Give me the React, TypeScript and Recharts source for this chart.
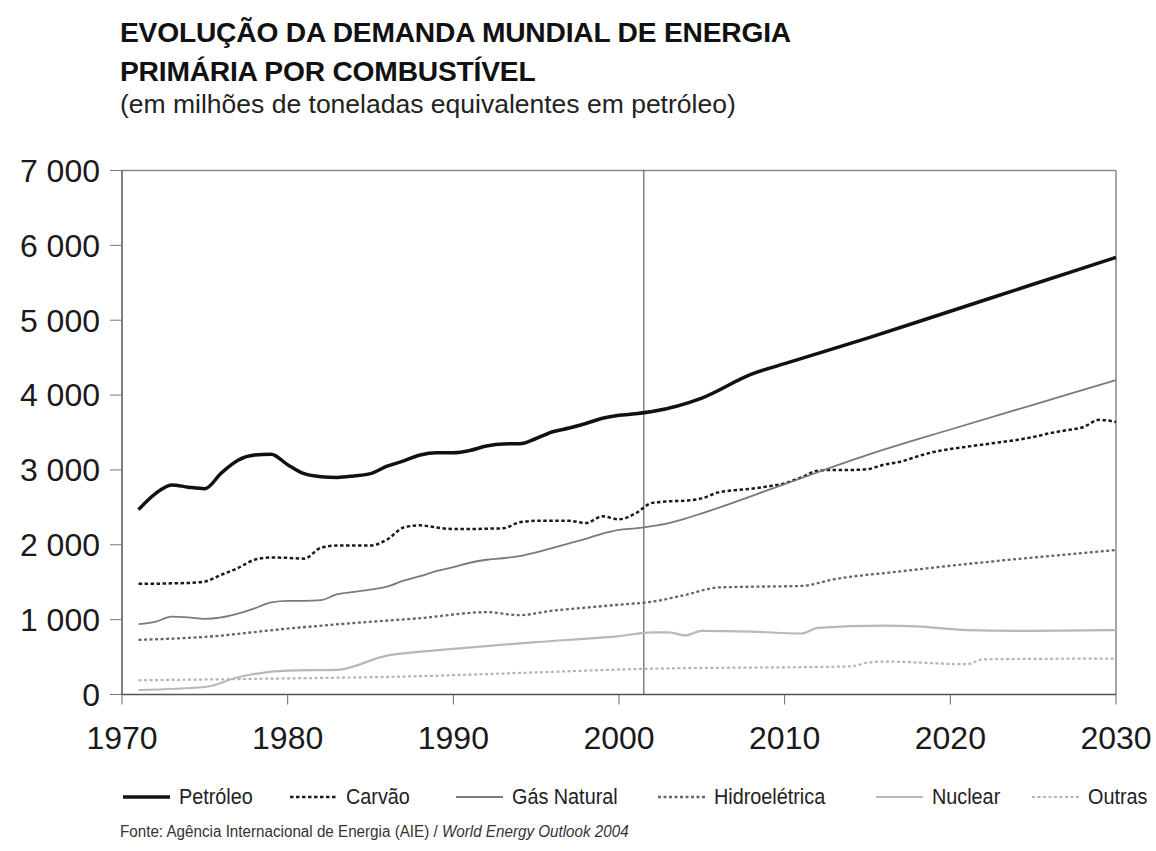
import React from 'react';
import { LineChart, Line, XAxis, YAxis, ReferenceLine } from 'recharts';

const anosTicks = [1970, 1980, 1990, 2000, 2010, 2020, 2030];
const valoresTicks = [0, 1000, 2000, 3000, 4000, 5000, 6000, 7000];
const anoBase = 2001.5;

const petroleo = [
  { ano: 1971, v: 2470 }, { ano: 1972, v: 2680 }, { ano: 1973, v: 2800 }, { ano: 1974, v: 2770 },
  { ano: 1975, v: 2750 }, { ano: 1976, v: 2960 }, { ano: 1977, v: 3130 }, { ano: 1978, v: 3200 },
  { ano: 1979, v: 3210 }, { ano: 1980, v: 3070 }, { ano: 1981, v: 2950 }, { ano: 1982, v: 2910 },
  { ano: 1983, v: 2900 }, { ano: 1984, v: 2920 }, { ano: 1985, v: 2950 }, { ano: 1986, v: 3050 },
  { ano: 1987, v: 3120 }, { ano: 1988, v: 3200 }, { ano: 1989, v: 3230 }, { ano: 1990, v: 3230 },
  { ano: 1991, v: 3260 }, { ano: 1992, v: 3320 }, { ano: 1993, v: 3348 }, { ano: 1994, v: 3350 },
  { ano: 1995, v: 3420 }, { ano: 1996, v: 3510 }, { ano: 1997, v: 3560 }, { ano: 1998, v: 3620 },
  { ano: 1999, v: 3690 }, { ano: 2000, v: 3730 }, { ano: 2001, v: 3750 }, { ano: 2002, v: 3780 },
  { ano: 2005, v: 3960 }, { ano: 2008, v: 4280 }, { ano: 2010, v: 4420 }, { ano: 2015, v: 4760 },
  { ano: 2020, v: 5120 }, { ano: 2025, v: 5480 }, { ano: 2030, v: 5840 },
];

const carvao = [
  { ano: 1971, v: 1480 }, { ano: 1972, v: 1480 }, { ano: 1973, v: 1485 }, { ano: 1974, v: 1490 },
  { ano: 1975, v: 1510 }, { ano: 1976, v: 1600 }, { ano: 1977, v: 1690 }, { ano: 1978, v: 1800 },
  { ano: 1979, v: 1830 }, { ano: 1980, v: 1825 }, { ano: 1981, v: 1815 }, { ano: 1982, v: 1960 },
  { ano: 1983, v: 1990 }, { ano: 1984, v: 1990 }, { ano: 1985, v: 1990 }, { ano: 1986, v: 2070 },
  { ano: 1987, v: 2230 }, { ano: 1988, v: 2260 }, { ano: 1989, v: 2230 }, { ano: 1990, v: 2210 },
  { ano: 1991, v: 2210 }, { ano: 1992, v: 2215 }, { ano: 1993, v: 2220 }, { ano: 1994, v: 2300 },
  { ano: 1995, v: 2320 }, { ano: 1996, v: 2320 }, { ano: 1997, v: 2320 }, { ano: 1998, v: 2290 },
  { ano: 1999, v: 2380 }, { ano: 2000, v: 2340 }, { ano: 2001, v: 2420 }, { ano: 2002, v: 2560 },
  { ano: 2003, v: 2580 }, { ano: 2004, v: 2590 }, { ano: 2005, v: 2620 }, { ano: 2006, v: 2700 },
  { ano: 2007, v: 2730 }, { ano: 2008, v: 2750 }, { ano: 2009, v: 2780 }, { ano: 2010, v: 2820 },
  { ano: 2011, v: 2900 }, { ano: 2012, v: 2990 }, { ano: 2013, v: 3000 }, { ano: 2014, v: 3000 },
  { ano: 2015, v: 3010 }, { ano: 2016, v: 3070 }, { ano: 2017, v: 3110 }, { ano: 2018, v: 3180 },
  { ano: 2019, v: 3240 }, { ano: 2020, v: 3280 }, { ano: 2021, v: 3310 }, { ano: 2022, v: 3340 },
  { ano: 2023, v: 3370 }, { ano: 2024, v: 3400 }, { ano: 2025, v: 3440 }, { ano: 2026, v: 3490 },
  { ano: 2027, v: 3530 }, { ano: 2028, v: 3570 }, { ano: 2029, v: 3670 }, { ano: 2030, v: 3640 },
];

const gasNatural = [
  { ano: 1971, v: 940 }, { ano: 1972, v: 970 }, { ano: 1973, v: 1040 }, { ano: 1974, v: 1030 },
  { ano: 1975, v: 1010 }, { ano: 1976, v: 1030 }, { ano: 1977, v: 1080 }, { ano: 1978, v: 1150 },
  { ano: 1979, v: 1230 }, { ano: 1980, v: 1250 }, { ano: 1981, v: 1250 }, { ano: 1982, v: 1260 },
  { ano: 1983, v: 1340 }, { ano: 1984, v: 1370 }, { ano: 1985, v: 1400 }, { ano: 1986, v: 1440 },
  { ano: 1987, v: 1520 }, { ano: 1988, v: 1580 }, { ano: 1989, v: 1650 }, { ano: 1990, v: 1700 },
  { ano: 1991, v: 1760 }, { ano: 1992, v: 1800 }, { ano: 1993, v: 1820 }, { ano: 1994, v: 1850 },
  { ano: 1995, v: 1900 }, { ano: 1996, v: 1960 }, { ano: 1997, v: 2020 }, { ano: 1998, v: 2080 },
  { ano: 1999, v: 2150 }, { ano: 2000, v: 2200 }, { ano: 2001, v: 2220 }, { ano: 2002, v: 2250 },
  { ano: 2003, v: 2290 }, { ano: 2004, v: 2350 }, { ano: 2005, v: 2420 }, { ano: 2010, v: 2810 },
  { ano: 2015, v: 3200 }, { ano: 2020, v: 3540 }, { ano: 2025, v: 3870 }, { ano: 2030, v: 4200 },
];

const hidroeletrica = [
  { ano: 1971, v: 730 }, { ano: 1975, v: 770 }, { ano: 1980, v: 880 }, { ano: 1984, v: 955 },
  { ano: 1988, v: 1020 }, { ano: 1992, v: 1100 }, { ano: 1994, v: 1060 }, { ano: 1996, v: 1120 },
  { ano: 1998, v: 1160 }, { ano: 2000, v: 1200 }, { ano: 2002, v: 1240 }, { ano: 2004, v: 1330 },
  { ano: 2006, v: 1430 }, { ano: 2008, v: 1440 }, { ano: 2011, v: 1450 }, { ano: 2013, v: 1540 },
  { ano: 2017, v: 1645 }, { ano: 2020, v: 1720 }, { ano: 2025, v: 1830 }, { ano: 2030, v: 1930 },
];

const nuclear = [
  { ano: 1971, v: 60 }, { ano: 1975, v: 100 }, { ano: 1977, v: 230 }, { ano: 1980, v: 320 },
  { ano: 1983, v: 330 }, { ano: 1986, v: 520 }, { ano: 1987, v: 550 }, { ano: 1990, v: 610 },
  { ano: 1995, v: 700 }, { ano: 2000, v: 780 }, { ano: 2002, v: 830 }, { ano: 2003, v: 830 },
  { ano: 2004, v: 790 }, { ano: 2005, v: 850 }, { ano: 2008, v: 840 }, { ano: 2011, v: 815 },
  { ano: 2012, v: 890 }, { ano: 2016, v: 920 }, { ano: 2018, v: 910 }, { ano: 2021, v: 860 },
  { ano: 2025, v: 850 }, { ano: 2030, v: 860 },
];

const outras = [
  { ano: 1971, v: 190 }, { ano: 1980, v: 215 }, { ano: 1987, v: 240 }, { ano: 1995, v: 295 },
  { ano: 2001, v: 340 }, { ano: 2002, v: 345 }, { ano: 2014, v: 375 }, { ano: 2015, v: 425 },
  { ano: 2016, v: 440 }, { ano: 2021, v: 405 }, { ano: 2022, v: 470 }, { ano: 2030, v: 480 },
];

const series = [
  { nome: 'Petróleo', dados: petroleo, cor: '#111111', largura: 3.5, traco: undefined as string | undefined },
  { nome: 'Carvão', dados: carvao, cor: '#1a1a1a', largura: 2.5, traco: '3.5 2.5' },
  { nome: 'Gás Natural', dados: gasNatural, cor: '#7a7a7a', largura: 1.8, traco: undefined },
  { nome: 'Hidroelétrica', dados: hidroeletrica, cor: '#666666', largura: 2.3, traco: '3 2.5' },
  { nome: 'Nuclear', dados: nuclear, cor: '#b8b8b8', largura: 2.2, traco: undefined },
  { nome: 'Outras', dados: outras, cor: '#b5b5b5', largura: 2.2, traco: '3 2.5' },
];

const legendaX = [123, 290, 456, 658, 876, 1032];

const FONT = '"Liberation Sans", Arial, Helvetica, sans-serif';

const fmt = (v: number) => {
  if (v === 0) return '0';
  const mil = Math.floor(v / 1000);
  const resto = String(v % 1000).padStart(3, '0');
  return `${mil} ${resto}`;
};

export default function App() {
  return (
    <div style={{ position: 'absolute', left: 0, top: 0, width: 1156, height: 851, background: '#fff', overflow: 'hidden', fontFamily: FONT }}>
      <div style={{ position: 'absolute', left: 120, top: 13, fontFamily: FONT, fontWeight: 700, fontSize: 28.2, lineHeight: '39px', color: '#111', letterSpacing: -0.2 }}>
        EVOLUÇÃO DA DEMANDA MUNDIAL DE ENERGIA<br />PRIMÁRIA POR COMBUSTÍVEL
      </div>
      <div style={{ position: 'absolute', left: 120, top: 88, fontFamily: FONT, fontSize: 26.5, lineHeight: '32px', color: '#222' }}>
        (em milhões de toneladas equivalentes em petróleo)
      </div>

      <div style={{ position: 'absolute', left: 0, top: 0 }}>
        <LineChart width={1156} height={851} margin={{ top: 170.5, right: 40, bottom: 96.5, left: 0 }}>
          <XAxis
            dataKey="ano"
            type="number"
            domain={[1970, 2030]}
            ticks={anosTicks}
            allowDuplicatedCategory={false}
            height={60}
            tickSize={10}
            tickMargin={22}
            axisLine={{ stroke: '#555', strokeWidth: 1.5 }}
            tickLine={{ stroke: '#666', strokeWidth: 1 }}
            tick={{ fill: '#1a1a1a', fontSize: 32, fontFamily: FONT }}
          />
          <YAxis
            type="number"
            domain={[0, 7000]}
            ticks={valoresTicks}
            width={122}
            tickSize={12}
            tickMargin={10}
            tickFormatter={fmt}
            axisLine={{ stroke: '#555', strokeWidth: 1.5 }}
            tickLine={{ stroke: '#777', strokeWidth: 1 }}
            tick={{ fill: '#1a1a1a', fontSize: 32, fontFamily: FONT }}
          />
          <ReferenceLine y={7000} stroke="#888" strokeWidth={1.5} />
          <ReferenceLine x={2030} stroke="#888" strokeWidth={1.5} />
          <ReferenceLine x={anoBase} stroke="#444" strokeWidth={1} />
          {series.map((s) => (
            <Line
              key={s.nome}
              data={s.dados}
              dataKey="v"
              name={s.nome}
              type="monotone"
              stroke={s.cor}
              strokeWidth={s.largura}
              strokeDasharray={s.traco}
              dot={false}
              activeDot={false}
              isAnimationActive={false}
            />
          ))}
        </LineChart>
      </div>

      {series.map((s, i) => (
        <div key={s.nome} style={{ position: 'absolute', left: legendaX[i], top: 784, height: 26, display: 'flex', alignItems: 'center' }}>
          <svg width={47} height={10} style={{ display: 'block' }}>
            <line x1={0} y1={5} x2={47} y2={5} stroke={s.cor} strokeWidth={s.largura} strokeDasharray={s.traco} />
          </svg>
          <span style={{ marginLeft: 9, fontFamily: FONT, fontSize: 22, color: '#222', whiteSpace: 'nowrap', display: 'inline-block', transform: 'scaleX(0.9)', transformOrigin: 'left center' }}>{s.nome}</span>
        </div>
      ))}

      <div style={{ position: 'absolute', left: 120, top: 823, fontFamily: FONT, fontSize: 16, color: '#333', whiteSpace: 'nowrap', transform: 'scaleX(0.95)', transformOrigin: 'left center' }}>
        Fonte: Agência Internacional de Energia (AIE) / <i>World Energy Outlook 2004</i>
      </div>
    </div>
  );
}
